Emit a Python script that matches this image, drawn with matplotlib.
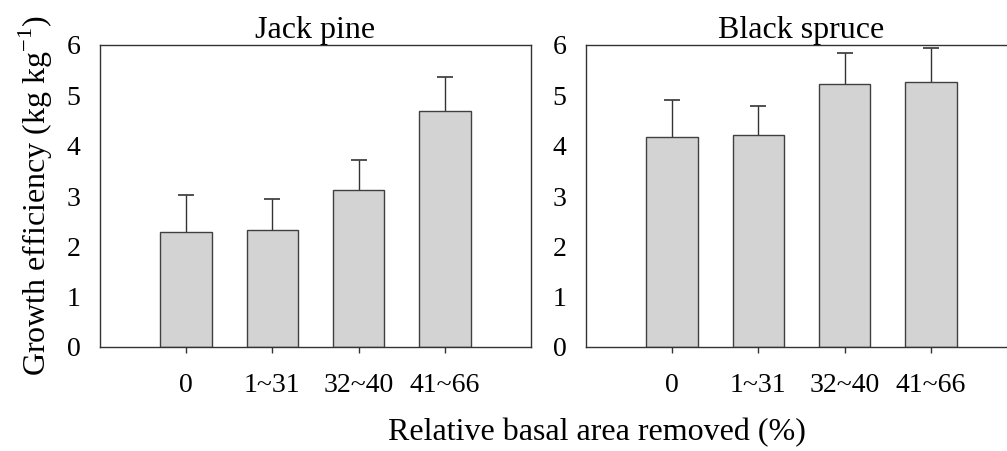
import matplotlib
matplotlib.use('Agg')
import matplotlib.pyplot as plt
import numpy as np

plt.rcParams['font.family'] = ['Liberation Serif', 'DejaVu Serif']
plt.rcParams['mathtext.fontset'] = 'custom'
plt.rcParams['mathtext.rm'] = 'Liberation Serif'

categories = ['0', '1~31', '32~40', '41~66']
titles = ['Jack pine', 'Black spruce']
jack_pine = [2.29, 2.33, 3.11, 4.69]
jack_pine_se = [0.72, 0.61, 0.61, 0.68]
black_spruce = [4.18, 4.21, 5.23, 5.26]
black_spruce_se = [0.73, 0.58, 0.61, 0.68]
yticks = [0, 1, 2, 3, 4, 5, 6]

W, H = 1007, 451
fig = plt.figure(figsize=(W / 100, H / 100), dpi=100)

def px_axes(left, top, right, bottom):
    return fig.add_axes([left / W, 1 - bottom / H, (right - left) / W, (bottom - top) / H])

panels = [
    (px_axes(100, 45, 531, 347), jack_pine, jack_pine_se),
    (px_axes(586, 45, 1017, 347), black_spruce, black_spruce_se),
]

x = np.arange(len(categories))
for (ax, vals, errs), title in zip(panels, titles):
    ax.bar(x, vals, width=0.6, color='#d3d3d3', edgecolor='#404040', linewidth=1.0, zorder=2)
    eb = ax.errorbar(x, vals, yerr=[np.zeros(len(errs)), errs], fmt='none',
                     ecolor='#333333', elinewidth=1.0, capsize=5.5, capthick=1.2, zorder=1)
    # only the upper cap is wanted
    eb[1][0].set_visible(False)
    ax.set_xlim(-1, 4)
    ax.set_ylim(0, 6)
    ax.set_xticks(x)
    ax.set_xticklabels(categories)
    ax.set_yticks(yticks)
    ax.tick_params(axis='y', length=0, pad=14, labelsize=20)
    ax.tick_params(axis='x', length=4, width=1, direction='out', pad=15, labelsize=20,
                   color='#333333')
    for s in ax.spines.values():
        s.set_color('#333333')
        s.set_linewidth(1.0)
    ax.set_title(title, fontsize=23, pad=2)

fig.text(36 / W, 1 - 196 / H, r'Growth efficiency (kg kg$^{-1}$)', rotation=90,
         ha='center', va='center', fontsize=23)
fig.text(597 / W, 1 - 433 / H, 'Relative basal area removed (%)',
         ha='center', va='center', fontsize=23)

fig.savefig('out.png', dpi=100)
